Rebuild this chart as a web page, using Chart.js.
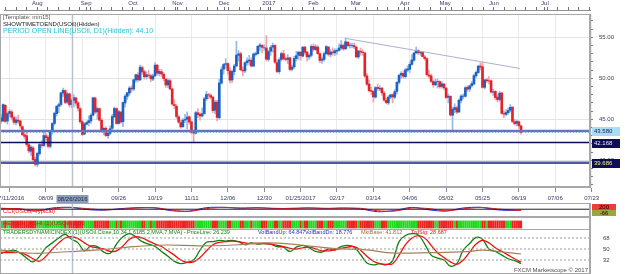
<!DOCTYPE html>
<html>
<head>
<meta charset="utf-8">
<script src="https://cdn.jsdelivr.net/npm/chart.js@4.4.1/dist/chart.umd.min.js"></script>
<style>
  body { margin: 0; background: #fff; width: 625px; height: 274px; overflow: hidden; position: relative; }
  canvas { position: absolute; left: 0; }
</style>
</head>
<body>
<canvas id="strip" width="625" height="14" style="top:0px"></canvas>
<canvas id="main" width="625" height="192" style="top:14px"></canvas>
<canvas id="cci" width="625" height="14" style="top:203px"></canvas>
<canvas id="ha" width="625" height="13" style="top:217px"></canvas>
<canvas id="tdi" width="625" height="45" style="top:229px"></canvas>
<script>
// USOil daily, 07/11/2016 .. 06/20/2017 (bar index = position on the time axis)
const opens = [45.20,44.80,46.70,44.80,45.70,45.90,45.20,44.60,44.90,44.80,
  44.10,43.10,43.00,41.90,41.10,41.50,40.10,39.50,40.80,41.90,
  41.80,43.00,42.80,41.70,43.50,44.50,45.70,46.60,46.80,48.20,
  48.50,47.10,48.10,46.80,47.30,47.60,47.00,46.30,44.70,43.20,
  44.40,44.60,44.80,45.50,47.60,45.90,46.30,44.90,43.60,43.90,
  43.00,43.30,43.90,45.30,46.30,44.50,45.90,44.70,47.00,47.80,
  48.20,48.80,48.70,49.80,50.40,49.80,51.30,50.80,50.20,50.40,
  50.30,49.90,50.30,51.60,50.60,50.80,50.50,49.90,49.20,49.70,
  48.70,46.80,46.60,45.30,44.60,44.10,44.90,45.00,45.30,44.70,
  43.40,43.30,45.80,45.60,45.40,45.70,47.50,48.00,47.90,47.70,
  46.10,47.10,45.20,49.40,51.10,51.70,51.80,50.90,49.80,50.80,
  51.50,52.80,53.00,51.00,50.90,51.90,52.10,52.20,51.50,52.90,
  53.00,53.90,54.00,53.70,53.70,52.30,53.30,53.80,54.00,51.90,
  50.80,52.30,53.00,52.40,52.30,52.50,51.10,51.40,52.40,52.80,
  53.20,52.70,53.80,53.20,52.60,52.80,53.90,53.50,53.80,53.00,
  52.20,52.30,53.00,53.80,52.90,53.20,53.10,53.30,53.40,53.70,
  54.00,53.60,54.40,54.00,54.00,54.00,53.80,52.60,53.30,53.20,
  53.10,50.30,49.30,48.50,48.40,47.70,48.90,48.70,48.80,48.20,
  47.30,47.00,47.70,48.00,47.70,48.40,49.50,50.40,50.60,50.20,
  51.00,51.10,51.70,52.20,53.10,53.40,53.10,53.20,52.60,52.40,
  50.40,50.30,49.60,49.20,49.60,49.60,49.00,49.30,48.80,47.70,
  47.80,45.50,46.20,46.40,45.90,47.30,47.80,47.80,48.90,48.70,
  49.10,49.30,50.30,50.70,51.50,51.40,48.90,49.80,49.70,49.70,
  48.30,48.40,47.70,47.40,48.20,45.70,45.60,45.80,46.10,46.50,
  44.70,44.50,44.70,44.20];
const highs = [45.60,46.90,46.80,45.90,46.20,46.10,45.40,45.30,45.50,44.90,
  44.20,43.70,43.40,42.10,41.80,41.70,40.40,41.00,42.10,42.40,
  43.50,43.30,43.00,43.60,44.60,45.90,46.70,47.00,48.30,48.80,
  48.60,48.30,48.20,47.50,48.00,47.70,47.20,46.40,44.90,44.60,
  44.80,45.40,45.70,47.70,47.70,46.50,46.40,45.10,44.00,44.10,
  43.60,44.20,45.60,46.50,46.40,46.10,45.90,47.10,48.00,48.30,
  49.00,49.10,49.90,50.50,50.70,51.60,51.50,51.00,50.80,51.00,
  50.50,50.50,51.90,51.70,51.10,51.10,50.70,50.00,50.00,49.90,
  48.80,47.40,46.80,45.50,44.90,45.10,45.60,45.90,45.40,44.80,
  43.70,46.00,46.30,45.80,46.40,47.70,48.40,48.20,48.10,47.80,
  47.30,47.30,49.90,51.40,51.80,52.40,51.90,51.30,51.00,51.70,
  54.50,53.40,53.20,51.40,52.00,52.50,52.80,52.50,53.10,53.20,
  54.00,54.30,54.10,54.10,55.20,53.40,54.00,54.30,54.10,52.30,
  52.50,53.20,53.40,52.60,52.90,52.60,51.60,52.70,53.30,53.30,
  53.20,53.90,53.90,53.30,53.00,54.10,54.20,54.10,54.00,53.10,
  52.60,53.20,54.00,53.90,53.50,53.70,53.60,53.60,54.20,54.60,
  54.20,54.90,54.50,54.30,54.30,54.30,53.90,53.40,53.70,53.50,
  53.20,50.60,49.80,48.90,48.50,49.00,49.30,49.10,48.90,48.40,
  47.60,47.90,48.10,48.10,48.60,49.60,50.50,50.80,50.90,51.20,
  51.50,52.00,52.90,53.20,53.80,53.50,53.30,53.20,52.80,52.50,
  51.00,50.50,49.80,49.90,49.90,49.70,49.60,49.40,48.90,48.10,
  47.90,46.50,46.90,46.60,47.50,48.00,48.10,49.00,49.10,49.20,
  49.60,50.50,50.90,51.60,51.90,52.00,49.90,50.00,50.20,49.80,
  48.70,48.50,48.00,48.40,48.30,46.00,46.20,46.40,46.80,46.50,
  45.00,44.90,44.80,44.30];
const lows = [44.50,44.70,44.60,44.40,45.30,45.00,44.40,44.30,44.50,43.90,
  43.00,42.60,41.70,40.90,40.60,39.90,39.30,39.20,40.60,41.50,
  41.70,42.40,41.50,41.50,43.20,44.30,45.40,45.80,46.60,47.80,
  46.90,46.90,46.50,46.40,46.50,46.70,46.00,44.50,43.00,43.10,
  44.30,44.20,44.50,45.40,45.70,45.00,44.80,43.40,43.10,42.90,
  42.70,43.10,43.70,45.20,44.40,44.40,44.50,44.10,46.50,47.40,
  47.90,48.30,48.50,49.50,49.60,49.70,50.50,49.90,49.90,50.10,
  49.60,49.70,50.20,50.40,50.30,50.20,49.70,48.90,48.90,48.60,
  46.70,46.30,45.10,44.50,43.90,44.00,44.60,43.80,44.40,43.20,
  42.20,43.20,45.20,44.90,45.30,45.60,47.30,47.50,47.50,45.80,
  45.70,44.80,45.00,49.30,50.50,51.20,50.50,49.40,49.50,50.40,
  51.40,52.10,50.90,50.30,50.70,51.60,51.60,51.40,51.40,52.70,
  52.90,53.40,53.10,53.40,52.10,52.10,52.80,53.20,51.80,50.70,
  50.60,52.10,52.20,52.10,51.80,50.90,50.90,51.20,52.10,52.30,
  52.20,52.60,52.90,52.10,52.30,52.60,53.30,53.40,52.90,51.90,
  51.80,52.10,52.90,52.70,52.60,52.80,52.80,52.90,53.30,53.50,
  53.40,53.50,53.80,53.70,53.70,53.60,52.50,52.40,52.80,52.80,
  50.10,49.10,48.30,48.00,47.10,47.60,48.50,48.50,47.90,47.20,
  46.90,46.80,47.50,47.00,47.50,48.10,49.30,50.00,50.00,50.00,
  50.80,50.70,51.60,52.10,53.00,52.90,52.80,52.60,52.20,50.30,
  50.00,49.50,48.90,49.10,48.80,48.80,48.80,48.60,47.50,47.00,
  45.40,43.70,45.80,45.70,45.80,47.00,47.50,47.70,48.40,48.40,
  48.90,49.20,50.10,50.60,51.00,48.80,48.70,49.50,49.30,48.20,
  47.90,47.40,47.10,47.20,45.60,45.20,45.40,45.60,45.90,44.60,
  44.30,44.20,43.90,43.20];
const closes = [44.76,46.80,44.75,45.68,45.95,45.24,44.65,44.94,44.75,44.19,
  43.13,42.92,41.92,41.14,41.60,40.06,39.51,40.83,41.93,41.80,
  43.02,42.77,41.71,43.49,44.49,45.74,46.58,46.79,48.22,48.52,
  47.05,48.10,46.77,47.33,47.64,46.98,46.35,44.70,43.16,44.44,
  44.60,44.83,45.50,47.62,45.88,46.29,44.90,43.58,43.91,43.03,
  43.30,43.85,45.34,46.32,44.48,45.93,44.67,47.05,47.83,48.24,
  48.81,48.69,49.83,50.44,49.81,51.35,50.79,50.18,50.44,50.35,
  49.94,50.29,51.60,50.63,50.85,50.52,49.96,49.18,49.72,48.70,
  46.86,46.67,45.34,44.66,44.07,44.89,44.98,45.27,44.66,43.41,
  43.32,45.81,45.57,45.42,45.69,47.49,48.03,47.96,47.70,46.06,
  47.08,45.23,49.44,51.06,51.68,51.79,50.93,49.77,50.84,51.50,
  52.83,52.98,51.04,50.90,51.90,52.12,52.23,51.49,52.95,53.02,
  53.90,54.06,53.77,53.72,52.33,53.26,53.76,53.99,51.96,50.82,
  52.25,53.01,52.37,52.30,52.48,51.08,51.37,52.42,52.75,53.18,
  52.75,53.78,53.17,52.63,52.81,53.88,53.54,53.83,53.01,52.17,
  52.34,53.00,53.86,52.93,53.20,53.11,53.36,53.40,53.70,54.06,
  53.59,54.45,53.99,54.05,54.01,53.83,52.61,53.33,53.20,53.14,
  50.28,49.28,48.49,48.40,47.72,48.86,48.75,48.78,48.22,47.34,
  47.04,47.70,47.97,47.73,48.37,49.51,50.35,50.60,50.24,51.03,
  51.15,51.70,52.24,53.08,53.40,53.11,53.18,52.65,52.41,50.44,
  50.27,49.62,49.23,49.56,49.62,48.97,49.33,48.84,47.66,47.82,
  45.52,46.22,46.43,45.88,47.33,47.83,47.84,48.85,48.66,49.07,
  49.35,50.33,50.73,51.47,51.36,48.90,49.80,49.70,49.66,48.32,
  48.36,47.66,47.40,48.19,45.72,45.64,45.83,46.08,46.46,44.73,
  44.46,44.74,44.20,43.40];

// time axis labels (bar index -> text)
const monthIdx = [15, 38, 60, 81, 103, 124, 145, 165, 188, 207, 230, 254];
const monthLabels = ['Aug','Sep','Oct','Nov','Dec','2017','Feb','Mar','Apr','May','Jun','Jul'];
const dateIdx = [4, 21, 38, 55, 72, 89, 106, 123, 140, 157, 174, 191, 208, 225, 242, 259, 276];
const dateLabels = ['07/11/2016','08/09','','09/26','10/19','11/11','12/06','12/30','01/25/2017',
  '02/17','03/14','04/06','05/02','05/25','06/19','07/06','07/23'];
const cursorIdx = 33.4, cursorLabel = '08/26/2016';

// price levels and trend line
const levels = [43.580, 42.168, 39.686];
const periodOpen = 43.42;
const trendIdx = [160.7, 242.5];
const trendVal = [54.88, 51.2];
const priceTicks = [37,38,39,40,41,42,43,44,45,46,47,48,49,50,51,52,53,54,55,56,57];

// Heiken Ashi colour runs
const haRuns = [['g',2],['r',1],['g',2],['r',12],['g',13],['r',1],['g',1],['r',7],['g',5],['r',7],
  ['g',3],['r',1],['g',1],['r',1],['g',9],['r',2],['g',2],['r',1],['g',2],['r',18],['g',8],['r',3],
  ['g',4],['r',2],['g',4],['r',2],['g',3],['r',1],['g',4],['r',3],['g',3],['r',2],['g',2],['r',4],
  ['g',4],['r',1],['g',1],['r',2],['g',4],['r',3],['g',2],['r',3],['g',6],['r',5],['g',1],['r',7],
  ['g',3],['r',3],['g',14],['r',8],['g',2],['r',7],['g',1],['r',1],['g',11],['r',2],['g',1],['r',8],
  ['g',3],['r',5]];

// CCI panel (sampled every 8 bars)
const cciIdx = [0,8,16,24,32,40,48,56,64,72,80,88,96,104,112,120,128,136,144,152,160,168,176,184,192,200,208,216,224,232,240,243];
const cciBlue = [30,10,-60,40,60,-10,-30,20,50,40,-50,-60,50,60,30,50,20,30,40,20,40,10,-80,-40,60,-20,-60,40,60,-20,-40,-30];
const cciRed = [20,20,-40,10,60,20,-20,0,40,50,-30,-70,20,60,40,40,30,20,40,30,30,30,-50,-60,40,20,-50,10,60,10,-30,-40];
const cciTags = ['200', '-66'];

// Traders Dynamic Index (sampled every 3 bars)
const tdiIdx = [0,3,6,9,12,15,18,21,24,27,30,33,36,39,42,45,48,51,54,57,60,63,66,69,72,75,78,81,84,87,90,
  93,96,99,102,105,108,111,114,117,120,123,126,129,132,135,138,141,144,147,150,153,156,159,162,165,168,
  171,174,177,180,183,186,189,192,195,198,201,204,207,210,213,216,219,222,225,228,231,234,237,240,243];
const priceLine = [43,46,48,43,35,29,38,52,60,68,74,66,60,47,55,54,45,43,58,70,75,70,62,58,54,46,38,30,26,28,32,
  48,61,62,64,63,64,62,57,60,58,59,58,54,53,46,53,56,52,46,45,50,49,54,56,53,41,
  27,24,26,24,31,62,72,75,73,58,40,35,32,22,26,48,59,69,66,50,46,40,34,31,26.2];
const trdSig = [45,44,44,44,40,34,30,38,50,60,68,70,67,60,54,52,50,46,47,55,66,70,68,63,58,54,47,40,32,28,29,
  36,47,57,61,62,63,62,60,59,59,59,58,56,54,51,50,52,53,50,47,47,48,51,53,54,48,
  38,30,26,25,26,40,57,68,72,68,56,44,36,29,25,32,45,58,64,60,52,46,40,34,28.7];
const baseIdx = [0,15,31,46,62,77,93,109,125,140,155,171,182,202,218,225,233,243];
const mktBase = [48,43,45.5,48.5,54,56.5,55,56.5,60,56.5,51,48.4,43.5,44,45.6,48,45.6,41.8];
const tdiLevels = [32, 50, 68];

// ---------------------------------------------------------------
const X_MIN = -0.467, X_MAX = 275.23;
const FONT = '"Liberation Sans", Arial, sans-serif';
const AXIS_TXT = '#3a3a66';
const FRAME = '#a8a8a8';

function fitRight(s) { s.width = 35; s.paddingTop = 0; s.paddingBottom = 0; }
function xHidden() {
  return { type: 'linear', min: X_MIN, max: X_MAX, offset: false, display: false, grid: { offset: false } };
}
function vline(idx, lo, hi, color) {
  return { type: 'line', data: [{ x: idx, y: lo }, { x: idx, y: hi }], borderColor: color,
    borderWidth: 1.5, pointRadius: 0, order: 0 };
}
function hline(v, color, w, dash) {
  return { type: 'line', data: [{ x: X_MIN, y: v }, { x: X_MAX, y: v }], borderColor: color,
    borderWidth: w, borderDash: dash || [], pointRadius: 0, order: 0 };
}

const framePlugin = {
  id: 'frame',
  afterDraw(chart) {
    const a = chart.chartArea, ctx = chart.ctx;
    ctx.save();
    ctx.strokeStyle = FRAME; ctx.lineWidth = 1;
    ctx.strokeRect(a.left + 0.5, a.top + 0.5, a.right - a.left - 1, a.bottom - a.top - 1);
    ctx.restore();
  }
};
const textPlugin = {
  id: 'texts',
  afterDraw(chart, args, opts) {
    const ctx = chart.ctx;
    (opts.items || []).forEach(t => {
      ctx.save();
      ctx.font = t.font;
      ctx.textBaseline = 'middle';
      ctx.textAlign = t.align || 'left';
      if (t.bg) { ctx.fillStyle = t.bg; ctx.fillRect(t.bx, t.by, t.bw, t.bh); }
      ctx.fillStyle = t.color;
      ctx.fillText(t.text, t.x, t.y);
      ctx.restore();
    });
  }
};

// ---------- month ruler ----------
const weekTicks = [];
for (let i = 0; i <= 275; i += 5) if (!monthIdx.includes(i)) weekTicks.push(i);
new Chart(document.getElementById('strip'), {
  type: 'scatter',
  data: { datasets: [{
    data: monthIdx.map(i => ({ x: i, y: 0.5 })),
    pointStyle: 'triangle', rotation: 180, radius: 2.6,
    backgroundColor: '#f4a21e', borderColor: '#e08a10', borderWidth: 0.5
  }] },
  options: {
    responsive: false, animation: false, devicePixelRatio: 1,
    layout: { padding: { right: 35 } },
    plugins: { legend: { display: false }, tooltip: { enabled: false } },
    scales: {
      x: {
        type: 'linear', position: 'top', min: X_MIN, max: X_MAX, offset: false,
        afterBuildTicks: s => { s.ticks = weekTicks.concat(monthIdx).sort((a, b) => a - b).map(v => ({ value: v })); },
        afterFit: s => { s.height = 10; s.paddingLeft = 0; s.paddingRight = 0; },
        ticks: { autoSkip: false, maxRotation: 0, padding: 0, color: AXIS_TXT, font: { family: FONT, size: 6 },
          callback: v => { const k = monthIdx.indexOf(v); return k >= 0 ? monthLabels[k] : ''; } },
        grid: { drawOnChartArea: false, tickLength: 3, tickColor: '#707070' },
        border: { color: '#909090' }
      },
      y: { min: 0, max: 1, display: false }
    }
  }
});

// ---------- main price panel ----------
const up = closes.map((c, i) => c >= opens[i]);
const Y_MIN = 36.744, Y_MAX = 57.84;
new Chart(document.getElementById('main'), {
  type: 'bar',
  data: { datasets: [
    hline(levels[0], '#6a73c2', 2.5),
    hline(periodOpen, '#52c6e6', 1, [1, 2]),
    hline(levels[1], '#0c0c5c', 1.5),
    hline(levels[2], '#4f58aa', 2.5),
    { type: 'line', data: trendIdx.map((x, k) => ({ x, y: trendVal[k] })), borderColor: '#aab0d2',
      borderWidth: 1, pointRadius: 0, order: 0 },
    vline(cursorIdx, Y_MIN, Y_MAX, '#b9c0d6'),
    { data: closes.map((c, i) => ({ x: i, y: [Math.min(opens[i], c), Math.max(opens[i], c)] })),
      backgroundColor: up.map(u => u ? '#1a62c4' : '#e4222a'),
      barThickness: 2, grouped: false, order: 1 },
    { data: closes.map((c, i) => ({ x: i, y: [lows[i], highs[i]] })),
      backgroundColor: up.map(u => u ? '#93b9ea' : '#f2a2a4'),
      barThickness: 1, grouped: false, order: 2 }
  ] },
  options: {
    responsive: false, animation: false, devicePixelRatio: 1,
    layout: { padding: 0 },
    plugins: {
      legend: { display: false }, tooltip: { enabled: false },
      texts: { items: [
        { text: '[Template: min15]', x: 3, y: 3, color: '#555', font: '6px ' + FONT },
        { text: 'SHOWTIMETOEND(USOil)(Hidden)', x: 3, y: 10, color: '#222', font: '6px ' + FONT },
        { text: 'PERIOD OPEN LINE(USOil, D1)(Hidden): 44.10', x: 3, y: 17.5, color: '#27bfd4', font: '7px ' + FONT }
      ] }
    },
    scales: {
      x: {
        type: 'linear', position: 'bottom', min: X_MIN, max: X_MAX, offset: false,
        afterBuildTicks: s => { s.ticks = dateIdx.map(v => ({ value: v })); },
        afterFit: s => { s.height = 19; s.paddingLeft = 0; s.paddingRight = 0; },
        ticks: { autoSkip: false, maxRotation: 0, padding: 3, color: AXIS_TXT, font: { family: FONT, size: 6 },
          callback: v => dateLabels[dateIdx.indexOf(v)] },
        grid: { color: '#ebebeb', tickColor: '#8088a0', tickLength: 5, offset: false },
        border: { color: FRAME }
      },
      y: {
        position: 'right', min: Y_MIN, max: Y_MAX,
        afterBuildTicks: s => { s.ticks = priceTicks.map(v => ({ value: v })); },
        afterFit: fitRight,
        ticks: { autoSkip: false, padding: 6, color: AXIS_TXT, font: { family: FONT, size: 6 },
          callback: v => v % 5 === 0 ? v.toFixed(2) : '' },
        grid: { color: c => c.tick && c.tick.value % 5 === 0 ? '#e4e4e4' : 'rgba(0,0,0,0)',
          tickColor: '#808080', tickLength: 3 },
        border: { color: FRAME }
      }
    }
  },
  plugins: [framePlugin, textPlugin, {
    id: 'levelTags',
    afterDraw(chart) {
      const ctx = chart.ctx, y = chart.scales.y, xs = chart.scales.x;
      const tags = [['#a9dcf3', '#10206a'], ['#0e0e58', '#e8e8ff'], ['#0e0e58', '#f2f27a']];
      ctx.save();
      ctx.font = '6px ' + FONT; ctx.textBaseline = 'middle'; ctx.textAlign = 'left';
      levels.forEach((v, k) => {
        const py = Math.round(y.getPixelForValue(v));
        ctx.fillStyle = tags[k][0]; ctx.fillRect(592, py - 4, 28, 9);
        ctx.fillStyle = tags[k][1]; ctx.fillText(v.toFixed(3), 594, py + 0.5);
      });
      // cursor date tag on the time axis
      const cx = xs.getPixelForValue(cursorIdx);
      ctx.fillStyle = '#8e9cb6'; ctx.fillRect(cx - 16, 181, 32, 9);
      ctx.fillStyle = '#1c2a48'; ctx.textAlign = 'center'; ctx.fillText(cursorLabel, cx, 185.5);
      ctx.restore();
    }
  }]
});

// ---------- CCI panel ----------
new Chart(document.getElementById('cci'), {
  type: 'line',
  data: { datasets: [
    hline(0, '#202020', 1),
    vline(cursorIdx, -300, 300, '#b9c0d6'),
    { data: cciIdx.map((x, k) => ({ x, y: cciRed[k] })), borderColor: '#ee1c1c', borderWidth: 1, pointRadius: 0, tension: 0.3 },
    { data: cciIdx.map((x, k) => ({ x, y: cciBlue[k] })), borderColor: '#1a24e0', borderWidth: 1, pointRadius: 0, tension: 0.3 }
  ] },
  options: {
    responsive: false, animation: false, devicePixelRatio: 1,
    layout: { padding: 0 },
    plugins: { legend: { display: false }, tooltip: { enabled: false },
      texts: { items: [
        { text: 'CCI(USOil, Typical)', x: 3, y: 8, color: '#e01818', font: '6px ' + FONT },
        { text: cciTags[0], x: 604, y: 4.5, color: '#000', font: '6px ' + FONT, align: 'center',
          bg: '#f03c3c', bx: 592, by: 1, bw: 24, bh: 6 },
        { text: cciTags[1], x: 604, y: 10, color: '#000', font: '5.5px ' + FONT, align: 'center',
          bg: '#9aa83a', bx: 592, by: 7, bw: 24, bh: 6 }
      ] } },
    scales: {
      x: xHidden(),
      y: { position: 'right', min: -250, max: 200, afterFit: fitRight, ticks: { display: false },
        grid: { display: false }, border: { color: FRAME } }
    }
  },
  plugins: [framePlugin, textPlugin]
});

// ---------- Heiken Ashi colour bar ----------
const haColors = [];
haRuns.forEach(([c, n]) => { for (let k = 0; k < n; k++) haColors.push(c === 'g' ? '#22d822' : '#ec2424'); });
new Chart(document.getElementById('ha'), {
  type: 'bar',
  data: { datasets: [
    { data: haColors.map((c, i) => ({ x: i, y: [0.15, 0.7] })), backgroundColor: haColors,
      barThickness: 1.5, grouped: false }
  ] },
  options: {
    responsive: false, animation: false, devicePixelRatio: 1,
    layout: { padding: 0 },
    plugins: { legend: { display: false }, tooltip: { enabled: false },
      texts: { items: [
        { text: 'HEIKEN_ASHI (1)(USOil) 1.00', x: 3, y: 6, color: '#e01818', font: '6px ' + FONT }
      ] } },
    scales: {
      x: xHidden(),
      y: { position: 'right', min: 0, max: 1, afterFit: fitRight, ticks: { display: false },
        grid: { display: false }, border: { color: FRAME } }
    }
  },
  plugins: [framePlugin, textPlugin]
});

// ---------- Traders Dynamic Index ----------
new Chart(document.getElementById('tdi'), {
  type: 'line',
  data: { datasets: [
    ...tdiLevels.map(v => hline(v, '#9a9a9a', 1, [2, 2])),
    vline(cursorIdx, 0, 100, '#b9c0d6'),
    { data: baseIdx.map((x, k) => ({ x, y: mktBase[k] })), borderColor: '#a88058', borderWidth: 1.2, pointRadius: 0, tension: 0.4 },
    { data: tdiIdx.map((x, k) => ({ x, y: trdSig[k] })), borderColor: '#f01010', borderWidth: 1.3, pointRadius: 0, tension: 0.4 },
    { data: tdiIdx.map((x, k) => ({ x, y: priceLine[k] })), borderColor: '#0e820e', borderWidth: 1.3, pointRadius: 0, tension: 0.4 }
  ] },
  options: {
    responsive: false, animation: false, devicePixelRatio: 1,
    layout: { padding: 0 },
    plugins: { legend: { display: false }, tooltip: { enabled: false },
      texts: { items: [
        { text: 'TRADERSDYNAMICINDEX (1)(USOil.Close,10,34,1.6185,2,MVA,7,MVA) - PriceLine: 26.239', x: 3, y: 3.5, color: '#108010', font: '5.5px ' + FONT },
        { text: 'VolBandUp: 64.847', x: 258, y: 3.5, color: '#2a2ad0', font: '5.5px ' + FONT },
        { text: 'VolBandDn: 18.776', x: 305, y: 3.5, color: '#2a2ad0', font: '5.5px ' + FONT },
        { text: 'MktBase: 41.812', x: 361, y: 3.5, color: '#9a7040', font: '5.5px ' + FONT },
        { text: 'TrdSig: 28.687', x: 411, y: 3.5, color: '#e81010', font: '5.5px ' + FONT },
        { text: 'FXCM Marketscope \u00a9 2017', x: 588, y: 41, color: '#505050', font: '6px ' + FONT, align: 'right' }
      ] } },
    scales: {
      x: xHidden(),
      y: { position: 'right', min: 9.1, max: 82.7,
        afterBuildTicks: s => { s.ticks = tdiLevels.map(v => ({ value: v })); },
        afterFit: fitRight,
        ticks: { autoSkip: false, padding: 5, color: AXIS_TXT, font: { family: FONT, size: 6 } },
        grid: { display: false }, border: { color: FRAME } }
    }
  },
  plugins: [framePlugin, textPlugin]
});
</script>
</body>
</html>
